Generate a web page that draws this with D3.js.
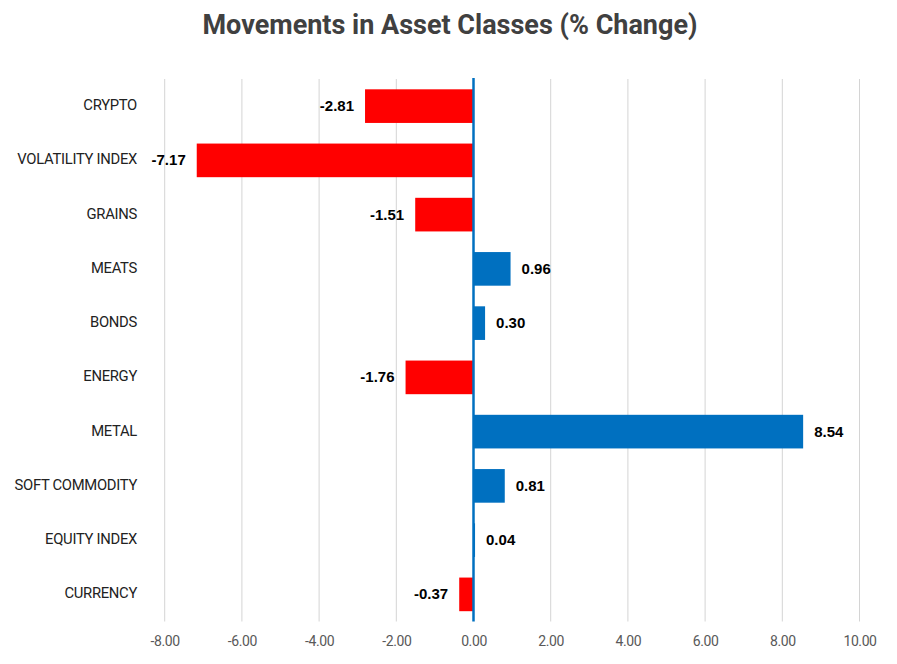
<!DOCTYPE html>
<html><head><meta charset="utf-8">
<script src="https://cdn.jsdelivr.net/npm/d3@7"></script>
<style>body{margin:0;background:#fff}svg{display:block}</style>
</head><body>
<svg id="chart" width="897" height="664"></svg>
<script>
const categories = ["CRYPTO","VOLATILITY INDEX","GRAINS","MEATS","BONDS","ENERGY","METAL","SOFT COMMODITY","EQUITY INDEX","CURRENCY"];
const values = [-2.81,-7.17,-1.51,0.96,0.30,-1.76,8.54,0.81,0.04,-0.37];
const tickValues = [-8,-6,-4,-2,0,2,4,6,8,10];
const title = "Movements in Asset Classes (% Change)";

const fmt = v => d3.format(".2f")(v).replace("\u2212","-");
const svg = d3.select("#chart");
const pLeft = 164.7, pRight = 859.5, pTop = 79, pBottom = 621.5;
const x = d3.scaleLinear().domain([-8,10]).range([pLeft,pRight]);
const y = d3.scaleBand().domain(categories).range([pTop,pBottom]).paddingInner(0.38).paddingOuter(0.19);

svg.append("text").attr("x",450).attr("y",34).attr("text-anchor","middle")
  .attr("font-family","Roboto, 'Liberation Sans', sans-serif").attr("font-weight","bold")
  .attr("font-size",27).attr("fill","#404040").text(title);

// grid
svg.append("g").selectAll("line").data(tickValues.filter(d=>d!==0)).join("line")
  .attr("x1",d=>x(d)).attr("x2",d=>x(d)).attr("y1",pTop).attr("y2",pBottom)
  .attr("stroke","#d4d4d4").attr("stroke-width",1);

// x axis labels
const xAxis = d3.axisBottom(x).tickValues(tickValues).tickFormat(fmt).tickSize(0).tickPadding(0);
const gx = svg.append("g").attr("transform",`translate(0,${pBottom})`).call(xAxis);
gx.select(".domain").remove();
gx.selectAll("text").attr("dy",null).attr("y",21).attr("font-family","Roboto, 'Liberation Sans', sans-serif")
  .attr("font-size",14).attr("fill","#595959").attr("dominant-baseline","middle").style("letter-spacing","-0.4px");

// y axis labels
const yAxis = d3.axisLeft(y).tickSize(0).tickPadding(0);
const gy = svg.append("g").attr("transform",`translate(137,0)`).call(yAxis);
gy.select(".domain").remove();
gy.selectAll("text").attr("dy",null).attr("x",0).attr("dominant-baseline","middle")
  .attr("font-family","Roboto, 'Liberation Sans', sans-serif").attr("font-size",14.8).attr("fill","#222")
  .style("letter-spacing","-0.3px");

// bars
const data = categories.map((c,i)=>({c,v:values[i]}));
svg.append("g").selectAll("rect").data(data).join("rect")
  .attr("x",d=>x(Math.min(0,d.v))).attr("width",d=>Math.abs(x(d.v)-x(0)))
  .attr("y",d=>y(d.c)).attr("height",y.bandwidth())
  .attr("fill",d=>d.v<0?"#FF0000":"#0070C0");

// zero line
svg.append("line").attr("x1",x(0)).attr("x2",x(0)).attr("y1",pTop-1).attr("y2",pBottom)
  .attr("stroke","#0070C0").attr("stroke-width",2.5);

// labels
svg.append("g").selectAll("text").data(data).join("text")
  .attr("x",d=>d.v<0?x(d.v)-11:x(d.v)+11)
  .attr("y",d=>y(d.c)+y.bandwidth()/2+1)
  .attr("text-anchor",d=>d.v<0?"end":"start").attr("dominant-baseline","middle")
  .attr("font-family","'Liberation Sans', Arial, sans-serif").attr("font-weight","bold")
  .attr("font-size",15).attr("fill","#000").text(d=>fmt(d.v));
</script>
</body></html>
